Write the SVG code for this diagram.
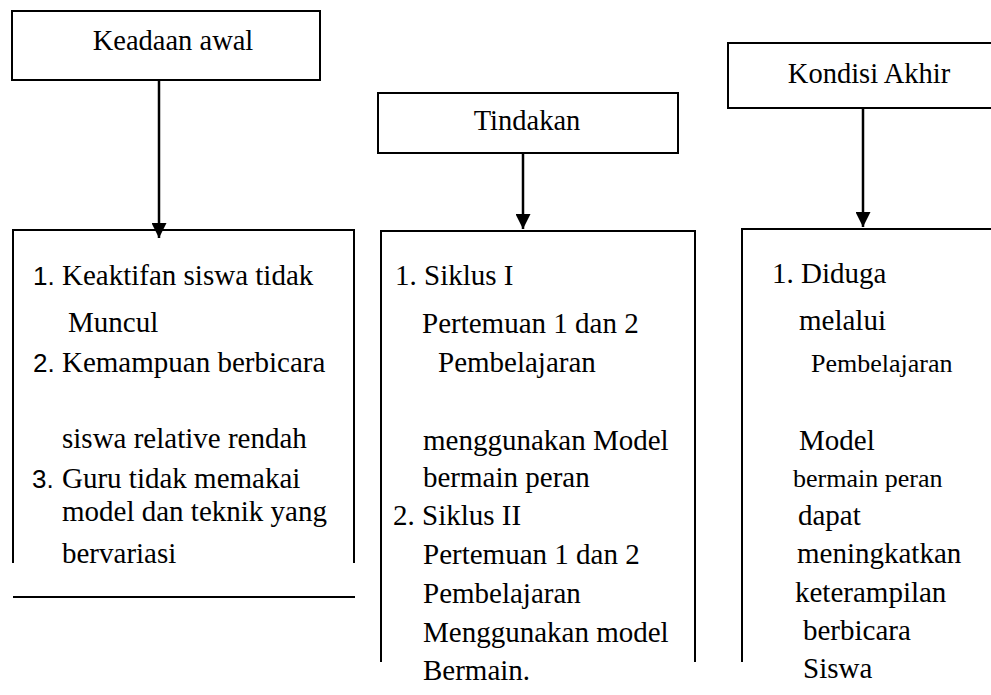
<svg xmlns="http://www.w3.org/2000/svg" width="991" height="695" viewBox="0 0 991 695">
<defs>
<style>
.b{fill:none;stroke:#000;stroke-width:2}
.c{stroke:#000;stroke-width:2.5;fill:none}
.h{font-family:"Liberation Serif","Times New Roman",serif;font-size:28.5px;fill:#000}
.t{font-family:"Liberation Serif","Times New Roman",serif;font-size:29px;fill:#000}
.s{font-family:"Liberation Serif","Times New Roman",serif;font-size:26px;fill:#000}
.n{font-family:"Liberation Sans",Arial,sans-serif;font-size:26px;fill:#000}
</style>
<marker id="ah" markerUnits="userSpaceOnUse" markerWidth="15" markerHeight="15" refX="15" refY="7.5" orient="auto" viewBox="0 0 15 15">
<path d="M0,0 L15,7.5 L0,15 z" fill="#000"/>
</marker>
</defs>
<rect width="991" height="695" fill="#fff"/>

<g id="keadaan-awal">
<rect class="b" x="12" y="11" width="308" height="69"/>
<text class="h" x="173" y="50" text-anchor="middle">Keadaan awal</text>
</g>

<g id="tindakan">
<rect class="b" x="378" y="93" width="300" height="60"/>
<text class="h" x="527" y="130" text-anchor="middle">Tindakan</text>
</g>

<g id="kondisi-akhir">
<rect class="b" x="728" y="43" width="290" height="65"/>
<text class="h" x="869" y="83" text-anchor="middle">Kondisi Akhir</text>
</g>

<g id="keadaan-detail">
<path class="b" d="M13,563 V230 H354 V563"/>
<line class="b" x1="13" y1="597" x2="355" y2="597"/>
<text class="n" x="33" y="285">1.</text>
<text class="t" x="62" y="285">Keaktifan siswa tidak</text>
<text class="t" x="68" y="332">Muncul</text>
<text class="n" x="33" y="372">2.</text>
<text class="t" x="62" y="372">Kemampuan berbicara</text>
<text class="t" x="62" y="448">siswa relative rendah</text>
<text class="n" x="32" y="488">3.</text>
<text class="t" x="62" y="488">Guru tidak memakai</text>
<text class="t" x="62" y="521">model dan teknik yang</text>
<text class="t" x="62" y="563">bervariasi</text>
</g>

<g id="tindakan-detail">
<path class="b" d="M381,662 V231 H695 V662"/>
<text class="t" x="395" y="285">1. Siklus I</text>
<text class="t" x="422" y="333">Pertemuan 1 dan 2</text>
<text class="t" x="438" y="372">Pembelajaran</text>
<text class="t" x="423" y="450">menggunakan Model</text>
<text class="t" x="423" y="487">bermain peran</text>
<text class="t" x="393" y="525">2. Siklus II</text>
<text class="t" x="423" y="564">Pertemuan 1 dan 2</text>
<text class="t" x="423" y="603">Pembelajaran</text>
<text class="t" x="423" y="642">Menggunakan model</text>
<text class="t" x="423" y="680">Bermain.</text>
</g>

<g id="kondisi-detail">
<path class="b" d="M742,662 V229 H995"/>
<text class="t" x="772" y="283">1. Diduga</text>
<text class="t" x="799" y="330">melalui</text>
<text class="s" x="811" y="372">Pembelajaran</text>
<text class="t" x="799" y="450">Model</text>
<text class="s" x="793" y="487">bermain peran</text>
<text class="t" x="798" y="525">dapat</text>
<text class="t" x="797" y="563">meningkatkan</text>
<text class="t" x="795" y="602">keterampilan</text>
<text class="t" x="803" y="640">berbicara</text>
<text class="t" x="803" y="678">Siswa</text>
</g>

<g id="connectors">
<line class="c" x1="159" y1="80" x2="159" y2="238" marker-end="url(#ah)"/>
<line class="c" x1="523" y1="153" x2="523" y2="229" marker-end="url(#ah)"/>
<line class="c" x1="863" y1="108" x2="863" y2="227" marker-end="url(#ah)"/>
</g>
</svg>
